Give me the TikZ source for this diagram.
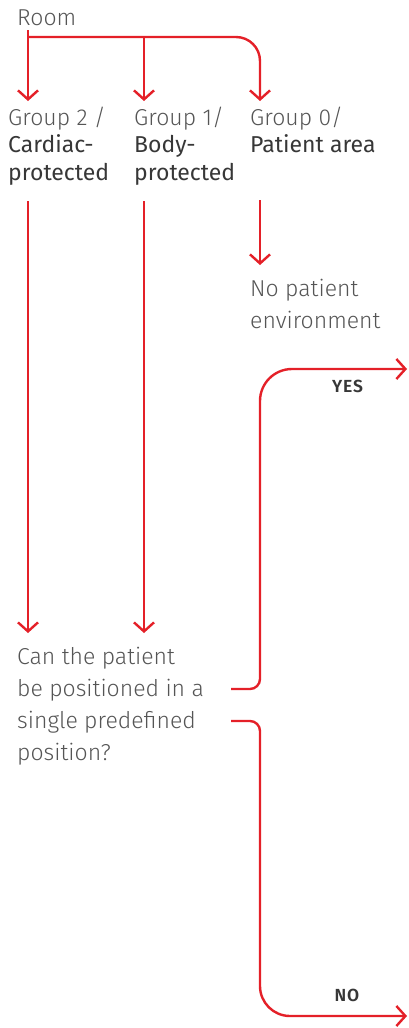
\documentclass[tikz,border=0pt]{standalone}
\usepackage{fontspec}
\setmainfont{Fira Sans Light}[BoldFont={Fira Sans}]
\newfontfamily\semibold{Fira Sans SemiBold}
\usepackage{xcolor}
\definecolor{abbred}{RGB}{228,32,40}
\definecolor{txtgray}{RGB}{85,85,85}
\definecolor{txtdark}{RGB}{55,55,55}
\usetikzlibrary{arrows.meta,positioning}

\begin{document}
\begin{tikzpicture}[x=1pt, y=-1pt,
    line/.style={draw=abbred, line width=2.4pt},
    flow/.style={line, -{Straight Barb[length=9pt,width=20pt,line width=2.4pt]}},
    txt/.style={font=\fontsize{23}{27.5}\selectfont, text=txtgray, anchor=base west,
      inner sep=0pt, align=left},
    qtxt/.style={txt, font=\fontsize{23}{31.7}\selectfont},
    answer/.style={font=\fontsize{17.5}{19}\semibold\addfontfeature{LetterSpace=5}, text=txtdark,
      anchor=base, inner sep=0pt}]
    \useasboundingbox (0,0) rectangle (408,1028);

    % Room and the three groups (base = last line)
    \node[txt] (room) at (17,25) {Room};
    \node[txt] (g2) at (8,180)
      {Group 2 /\\\textbf{\color{txtdark}Cardiac-}\\\textbf{\color{txtdark}protected}};
    \node[txt] (g1) at (134,180)
      {Group 1/\\\textbf{\color{txtdark}Body-}\\\textbf{\color{txtdark}protected}};
    \node[txt] (g0) at (250,152.5)
      {Group 0/\\\textbf{\color{txtdark}Patient area}};
    \node[qtxt] (nopat) at (250,328) {No patient\\environment};

    % Question
    \node[qtxt] (quest) at (17,760)
      {Can the patient\\be positioned in a\\single predefined\\position?};
    \coordinate (qyes) at (231,689);
    \coordinate (qno) at (231,721);

    % Branch points
    \coordinate (top) at (28,30);
    \coordinate (split2) at (28,37);
    \coordinate (split1) at (144,37);
    \coordinate (yesend) at (407,369);
    \coordinate (noend) at (407,1016);

    % Room to groups
    \draw[flow] (top) -- (28,101);
    \draw[flow] (split1) -- (144,101);
    \draw[flow] (split2) -- (236,37) .. controls (249.3,37) and (260,47.7) .. (260,61) -- (260,101);

    % Groups down
    \draw[flow] (28,201) -- (28,633);
    \draw[flow] (144,201) -- (144,633);
    \draw[flow] (260,200) -- (260,265);

    % Yes / No branches
    \draw[flow] (qyes) -- (250,689) .. controls (255.5,689) and (260,684.5) .. (260,679)
      -- (260,401) .. controls (260,383.3) and (274.3,369) .. (292,369) -- (yesend);
    \draw[flow] (qno) -- (250,721) .. controls (255.5,721) and (260,725.5) .. (260,731)
      -- (260,986) .. controls (260,1002.6) and (273.4,1016) .. (290,1016) -- (noend);
    \node[answer] (yes) at (347.5,392) {YES};
    \node[answer] (no) at (347,1001) {NO};
\end{tikzpicture}
\end{document}
